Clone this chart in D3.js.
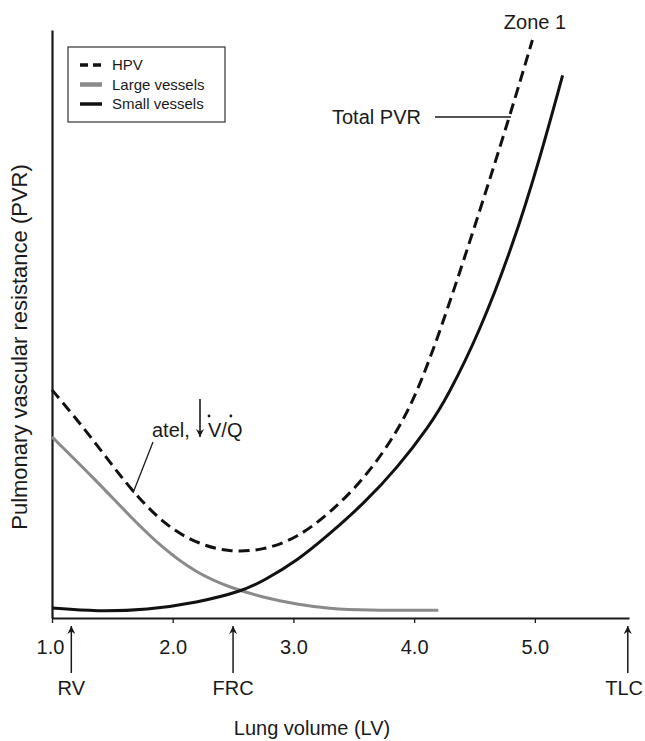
<!DOCTYPE html>
<html>
<head>
<meta charset="utf-8">
<script src="https://cdn.jsdelivr.net/npm/d3@7"></script>
<style>
  body { margin: 0; background: #fff; }
  text { font-family: "Liberation Sans", Arial, sans-serif; fill: #1a1a1a; }
</style>
</head>
<body>
<div id="chart"></div>
<script>
// lung volume (x) and resistance (arbitrary units, y)
var hpvX = [1.0, 1.23, 1.51, 1.65, 1.92, 2.2, 2.47, 2.75, 3.03, 3.30, 3.58, 3.86, 4.05, 4.27, 4.54, 4.79, 4.98];
var hpvY = [38.8, 33.2, 25.7, 22.0, 16.0, 12.6, 11.2, 11.5, 13.6, 17.8, 23.5, 31.5, 39.5, 52.0, 69.0, 85.2, 98.3];

var largeX = [1.0, 1.37, 1.65, 1.92, 2.2, 2.47, 2.75, 3.03, 3.30, 3.58, 4.2];
var largeY = [30.8, 23.3, 17.2, 11.8, 7.6, 5.2, 3.5, 2.3, 1.6, 1.3, 1.3];

var smallX = [1.0, 1.37, 1.79, 2.2, 2.58, 2.75, 3.03, 3.30, 3.58, 3.86, 4.13, 4.27, 4.54, 4.82, 5.04, 5.23];
var smallY = [1.7, 1.1, 1.4, 2.6, 4.6, 6.3, 9.7, 14.3, 19.4, 25.5, 32.8, 37.4, 48.5, 63.5, 78.0, 92.3];

var xTicks = [1, 2, 3, 4, 5];
var markerNames = ["RV", "FRC", "TLC"];
var markerValues = [1.16, 2.5, 5.77];

var legendNames = ["HPV", "Large vessels", "Small vessels"];

var width = 645, height = 741;

var svg = d3.select("#chart")
    .append("svg")
    .attr("width", width)
    .attr("height", height);

var x = d3.scaleLinear().domain([1, 5.78]).range([52, 629]);
var y = d3.scaleLinear().domain([0, 100]).range([618, 30]);

var defs = svg.append("defs");
defs.append("marker")
    .attr("id", "head")
    .attr("viewBox", "0 0 10 10")
    .attr("refX", 10).attr("refY", 5)
    .attr("markerWidth", 11).attr("markerHeight", 8)
    .attr("markerUnits", "userSpaceOnUse")
    .attr("orient", "auto")
    .append("path")
    .attr("d", "M0,0 L10,5 L0,10 L3,5 Z")
    .attr("fill", "#1a1a1a");

// axes
var xAxis = svg.append("g")
    .attr("transform", "translate(0," + y(0) + ")")
    .call(d3.axisBottom(x).tickValues(xTicks).tickFormat(d3.format(".1f"))
        .tickSize(5).tickSizeOuter(0).tickPadding(17));
xAxis.select(".domain").attr("stroke", "#1a1a1a").attr("stroke-width", 2.2);
xAxis.selectAll(".tick line").attr("stroke", "#1a1a1a").attr("stroke-width", 1.3);
xAxis.selectAll(".tick text").attr("font-size", 20).attr("font-family", "Liberation Sans, Arial, sans-serif").attr("fill", "#1a1a1a");
xAxis.selectAll(".tick").filter(d => d === 1).select("text").attr("dx", -2);

var yAxis = svg.append("g")
    .attr("transform", "translate(" + x(1) + ",0)")
    .call(d3.axisLeft(y).tickValues([]).tickSizeOuter(0));
yAxis.select(".domain").attr("stroke", "#1a1a1a").attr("stroke-width", 2.2);

// curves
var line = d3.line()
    .x(d => x(d[0]))
    .y(d => y(d[1]))
    .curve(d3.curveBasis);

svg.append("path")
    .datum(d3.zip(largeX, largeY))
    .attr("d", line)
    .attr("fill", "none")
    .attr("stroke", "#8a8a8a")
    .attr("stroke-width", 3);

svg.append("path")
    .datum(d3.zip(smallX, smallY))
    .attr("d", line)
    .attr("fill", "none")
    .attr("stroke", "#111")
    .attr("stroke-width", 3);

svg.append("path")
    .datum(d3.zip(hpvX, hpvY))
    .attr("d", line)
    .attr("fill", "none")
    .attr("stroke", "#111")
    .attr("stroke-width", 3)
    .attr("stroke-dasharray", "11,6");

// volume markers under the axis
var markers = svg.append("g").selectAll("g")
    .data(d3.zip(markerNames, markerValues))
    .join("g")
    .attr("transform", d => "translate(" + x(d[1]) + ",0)");

markers.append("line")
    .attr("y1", 673).attr("y2", 626)
    .attr("stroke", "#1a1a1a")
    .attr("stroke-width", 1.5)
    .attr("marker-end", "url(#head)");

markers.append("text")
    .attr("y", 695)
    .attr("text-anchor", "middle")
    .attr("font-size", 20)
    .text(d => d[0])
    .each(function(d) {
        // keep the right-most label inside the page
        var over = x(d[1]) + this.getComputedTextLength() / 2 - (width - 2);
        if (over > 0) d3.select(this).attr("dx", -over);
    });

// axis titles
svg.append("text")
    .attr("x", 312).attr("y", 735)
    .attr("text-anchor", "middle")
    .attr("font-size", 20)
    .text("Lung volume (LV)");

svg.append("text")
    .attr("transform", "translate(27,347) rotate(-90)")
    .attr("text-anchor", "middle")
    .attr("font-size", 22)
    .text("Pulmonary vascular resistance (PVR)");

// annotations
svg.append("text")
    .attr("x", 535).attr("y", 29)
    .attr("text-anchor", "middle")
    .attr("font-size", 20)
    .text("Zone 1");

svg.append("text")
    .attr("x", 332).attr("y", 124)
    .attr("font-size", 20)
    .text("Total PVR");

svg.append("line")
    .attr("x1", 435).attr("x2", 511)
    .attr("y1", 117).attr("y2", 117)
    .attr("stroke", "#1a1a1a").attr("stroke-width", 1.3);

svg.append("text")
    .attr("x", 152).attr("y", 437)
    .attr("font-size", 20)
    .text("atel,");

svg.append("line")
    .attr("x1", 200).attr("x2", 200)
    .attr("y1", 399).attr("y2", 437)
    .attr("stroke", "#1a1a1a").attr("stroke-width", 1.6)
    .attr("marker-end", "url(#head)");

var vq = svg.append("text")
    .attr("x", 208).attr("y", 437)
    .attr("font-size", 20)
    .text("V/Q");

var dotX = [vq.node().getStartPositionOfChar(0).x + 1, vq.node().getStartPositionOfChar(2).x + 4];
svg.append("g").selectAll("circle")
    .data(dotX)
    .join("circle")
    .attr("cx", d => d)
    .attr("cy", 416)
    .attr("r", 1.4)
    .attr("fill", "#1a1a1a");

svg.append("line")
    .attr("x1", 153).attr("y1", 442)
    .attr("x2", 133).attr("y2", 493)
    .attr("stroke", "#1a1a1a").attr("stroke-width", 1.3);

// legend
var legend = svg.append("g");
legend.append("rect")
    .attr("x", 68).attr("y", 47)
    .attr("width", 157).attr("height", 75)
    .attr("fill", "none")
    .attr("stroke", "#333")
    .attr("stroke-width", 1.2);

var items = legend.selectAll("g.item")
    .data(legendNames)
    .join("g")
    .attr("class", "item")
    .attr("transform", (d, i) => "translate(0," + (65 + i * 19.5) + ")");

items.append("line")
    .attr("x1", 80).attr("x2", 102)
    .attr("stroke", (d, i) => i === 1 ? "#8a8a8a" : "#111")
    .attr("stroke-width", (d, i) => i === 1 ? 4.5 : 3.5)
    .attr("stroke-dasharray", (d, i) => i === 0 ? "8,5" : null);

items.append("text")
    .attr("x", 112)
    .attr("dy", "0.36em")
    .attr("font-size", 15)
    .text(d => d);
</script>
</body>
</html>
